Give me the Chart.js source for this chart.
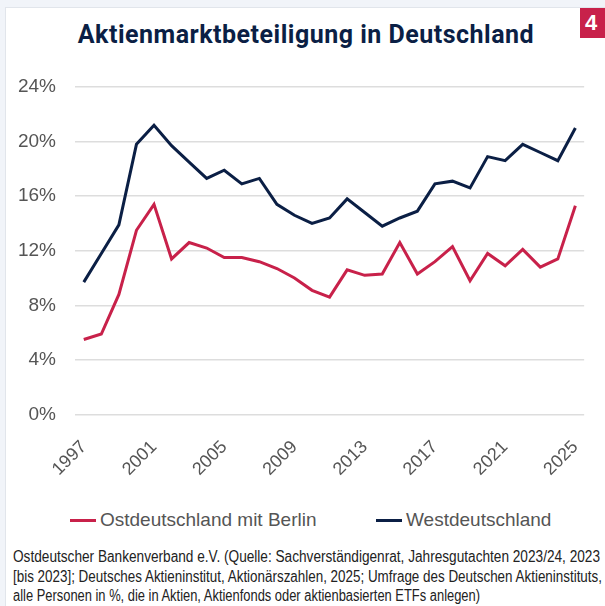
<!DOCTYPE html>
<html>
<head>
<meta charset="utf-8">
<script src="https://cdn.jsdelivr.net/npm/chart.js@4.4.1/dist/chart.umd.min.js"></script>
<style>
    html, body { margin: 0; padding: 0; }
    body { width: 605px; height: 606px; background: #f1f4f9; position: relative; overflow: hidden; }
    .card { position: absolute; left: 5px; top: 7px; width: 610px; height: 610px; background: #fff; border: 1px solid #e1e5eb; }
    .badge { position: absolute; left: 580px; top: 8px; width: 30px; height: 30px; background: #c8214a; color: #fff;
        font: bold 22px "Liberation Sans", Arial, sans-serif; line-height: 30px; padding-left: 5px; box-sizing: border-box; }
    .title { position: absolute; left: 0; top: 20px; width: 612px; text-align: center; white-space: nowrap;
        font: bold 25px Roboto, sans-serif; letter-spacing: 0.5px; line-height: 30px; color: #0b1f45; }
    .chart-box { position: absolute; left: 5px; top: 8px; width: 600px; height: 480px; }
    .legend { position: absolute; top: 508px; left: 0; height: 24px; font: 19px "Liberation Sans", Arial, sans-serif; color: #555; }
    .legend span { position: absolute; top: 0; line-height: 24px; white-space: nowrap; }
    .legend i { position: absolute; top: 11px; height: 3px; width: 26px; }
    .source { position: absolute; left: 13px; top: 547px; font: 16px "Liberation Sans", Arial, sans-serif;
        line-height: 19.5px; color: #222; }
    .source div { white-space: nowrap; transform-origin: 0 0; width: max-content; }
</style>
</head>
<body>
<div class="card"></div>
<div class="title">Aktienmarktbeteiligung in Deutschland</div>
<div class="chart-box"><canvas id="chart"></canvas></div>
<div class="legend" id="legend"></div>
<div class="badge">4</div>
<div class="source" id="source">
    <div data-w="587">Ostdeutscher Bankenverband e.V. (Quelle: Sachverständigenrat, Jahresgutachten 2023/24, 2023</div>
    <div data-w="589">[bis 2023]; Deutsches Aktieninstitut, Aktionärszahlen, 2025; Umfrage des Deutschen Aktieninstituts,</div>
    <div data-w="467">alle Personen in %, die in Aktien, Aktienfonds oder aktienbasierten ETFs anlegen)</div>
</div>
<script>
const years = ["1997", "1998", "1999", "2000", "2001", "2002", "2003", "2004", "2005", "2006",
    "2007", "2008", "2009", "2010", "2011", "2012", "2013", "2014", "2015", "2016",
    "2017", "2018", "2019", "2020", "2021", "2022", "2023", "2024", "2025"];

const ostValues = [5.5, 5.9, 8.8, 13.5, 15.4, 11.4, 12.6, 12.2, 11.5, 11.5,
    11.2, 10.7, 10.0, 9.1, 8.6, 10.6, 10.2, 10.3, 12.6, 10.3,
    11.2, 12.3, 9.8, 11.8, 10.9, 12.1, 10.8, 11.4, 15.3];

const westValues = [9.7, 11.8, 13.9, 19.8, 21.2, 19.7, 18.5, 17.3, 17.9, 16.9,
    17.3, 15.4, 14.6, 14.0, 14.4, 15.8, 14.8, 13.8, 14.4, 14.9,
    16.9, 17.1, 16.6, 18.9, 18.6, 19.8, 19.2, 18.6, 21.0];

const yTicks = [0, 4, 8, 12, 16, 20, 24];

const tickFont = { family: "'Liberation Sans', Arial, sans-serif", size: 18 };

const chart = new Chart(document.getElementById("chart"), {
    type: "line",
    data: {
        labels: years,
        datasets: [{
            label: "Ostdeutschland mit Berlin",
            data: ostValues,
            borderColor: "#c8214a",
            backgroundColor: "#c8214a",
            borderWidth: 3,
            pointRadius: 0,
            tension: 0
        }, {
            label: "Westdeutschland",
            data: westValues,
            borderColor: "#0b1f45",
            backgroundColor: "#0b1f45",
            borderWidth: 3,
            pointRadius: 0,
            tension: 0
        }]
    },
    options: {
        responsive: true,
        maintainAspectRatio: false,
        animation: false,
        layout: { padding: { left: 0, right: 20, top: 79, bottom: 0 } },
        scales: {
            x: {
                offset: true,
                grid: { display: false },
                border: { display: false },
                ticks: {
                    autoSkip: false,
                    maxRotation: 45,
                    minRotation: 45,
                    color: "#555",
                    font: tickFont,
                    padding: 14,
                    callback: function (value, index) {
                        return index % 4 === 0 ? years[index] : null;
                    }
                },
                afterFit: scale => { scale.height = 73.5; }
            },
            y: {
                min: 0,
                max: 24,
                afterBuildTicks: scale => { scale.ticks = yTicks.map(v => ({ value: v })); },
                grid: { color: "#dddddd", lineWidth: 1.5, drawTicks: false },
                border: { display: false },
                ticks: {
                    color: "#555",
                    font: { family: tickFont.family, size: 19 },
                    padding: 19,
                    callback: value => value + "%"
                },
                afterFit: scale => { scale.width = 70; }
            }
        },
        plugins: {
            legend: { display: false },
            tooltip: { enabled: false }
        }
    }
});

// legend built from the datasets
const legendLeft = [70, 376];
const legend = document.getElementById("legend");
chart.data.datasets.forEach((ds, i) => {
    const line = document.createElement("i");
    line.style.left = legendLeft[i] + "px";
    line.style.background = ds.borderColor;
    const text = document.createElement("span");
    text.style.left = (legendLeft[i] + 30) + "px";
    text.textContent = ds.label;
    legend.appendChild(line);
    legend.appendChild(text);
});

// squeeze each line of the source note to the narrow width of the original
document.querySelectorAll("#source div").forEach(line => {
    const w = line.getBoundingClientRect().width;
    line.style.transform = `scaleX(${Number(line.dataset.w) / w})`;
});
</script>
</body>
</html>
